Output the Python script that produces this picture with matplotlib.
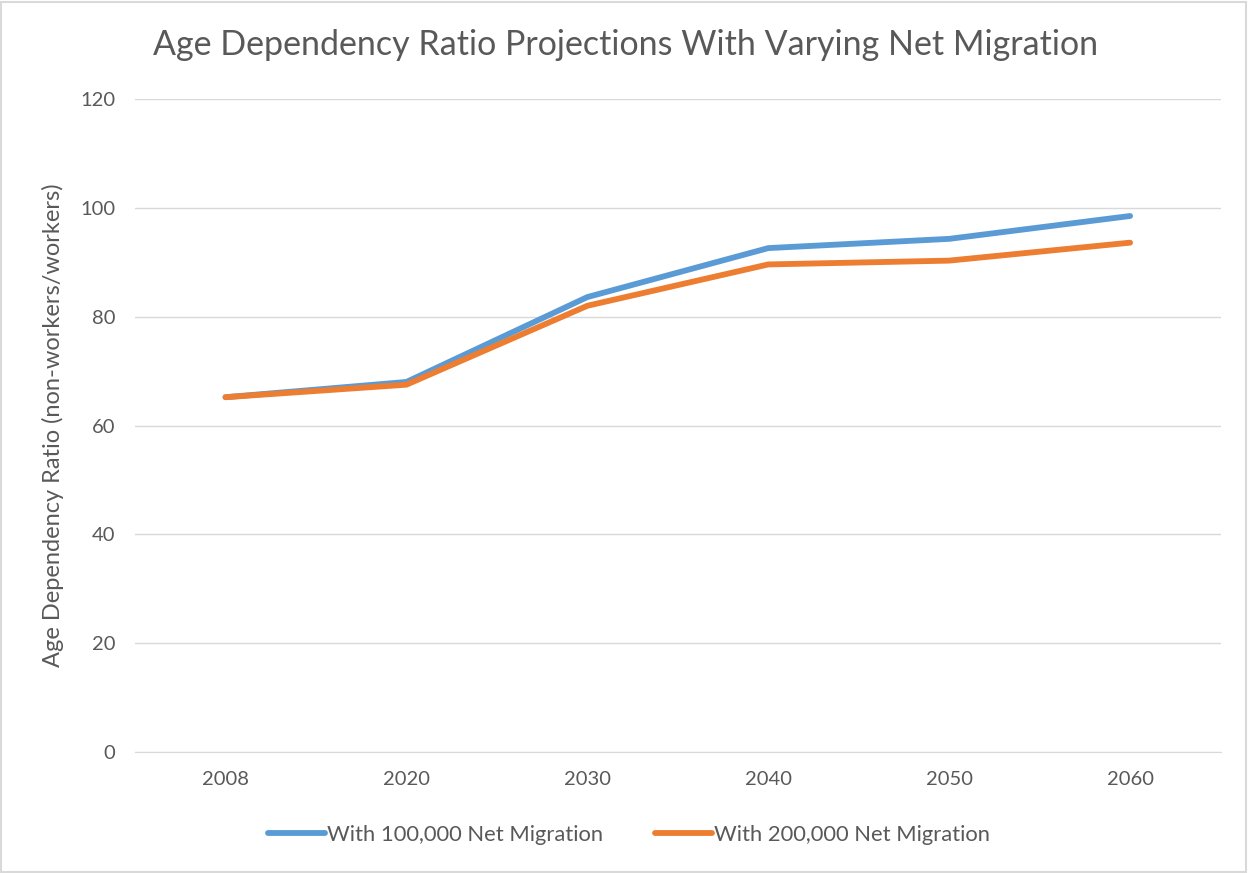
import matplotlib
matplotlib.use("Agg")
import matplotlib.pyplot as plt
from matplotlib.patches import Rectangle

years = ["2008", "2020", "2030", "2040", "2050", "2060"]
net100k = [65.2, 68.0, 83.6, 92.6, 94.3, 98.5]
net200k = [65.2, 67.5, 82.0, 89.6, 90.3, 93.6]
series_names = ["With 100,000 Net Migration", "With 200,000 Net Migration"]
yticks = [0, 20, 40, 60, 80, 100, 120]

plt.rcParams['font.family'] = ['Lato', 'DejaVu Sans']
txt = '#595959'

fig = plt.figure(figsize=(12.48, 8.73), dpi=100)
ax = fig.add_axes([0.1082, 0.1386, 0.978 - 0.1082, 0.8866 - 0.1386])

x = list(range(len(years)))
ax.plot(x, net100k, color='#5B9BD5', lw=4.2, solid_capstyle='round', solid_joinstyle='round', label=series_names[0], zorder=3)
ax.plot(x, net200k, color='#ED7D31', lw=4.2, solid_capstyle='round', solid_joinstyle='round', label=series_names[1], zorder=4)

ax.set_xlim(-0.5, len(years) - 0.5)
ax.set_ylim(0, 120)
ax.set_yticks(yticks)
ax.set_xticks(x)
ax.set_xticklabels(years)
ax.grid(axis='y', color='#d9d9d9', lw=1)
ax.set_axisbelow(True)
for s in ['top', 'right', 'left']:
    ax.spines[s].set_visible(False)
ax.spines['bottom'].set_color('#d9d9d9')
ax.tick_params(axis='both', length=0, labelsize=14.5, colors=txt)
ax.tick_params(axis='y', pad=14)
ax.tick_params(axis='x', pad=14)

ax.set_ylabel("Age Dependency Ratio (non-workers/workers)", fontsize=17, color=txt, labelpad=12)
fig.text(0.501, 0.948, "Age Dependency Ratio Projections With Varying Net Migration",
         ha='center', va='center', fontsize=24.5, color=txt, fontweight='normal')

leg = fig.legend(loc='center', bbox_to_anchor=(0.504, 0.044), ncol=2, frameon=False,
                 fontsize=15.8, labelcolor=txt, handlelength=2.6, handletextpad=0.08,
                 columnspacing=2.4)

fig.patches.append(Rectangle((0.001, 0.001), 0.997, 0.997, transform=fig.transFigure,
                             fill=False, edgecolor='#d9d9d9', lw=1.5))

fig.savefig("out.png", dpi=100)
